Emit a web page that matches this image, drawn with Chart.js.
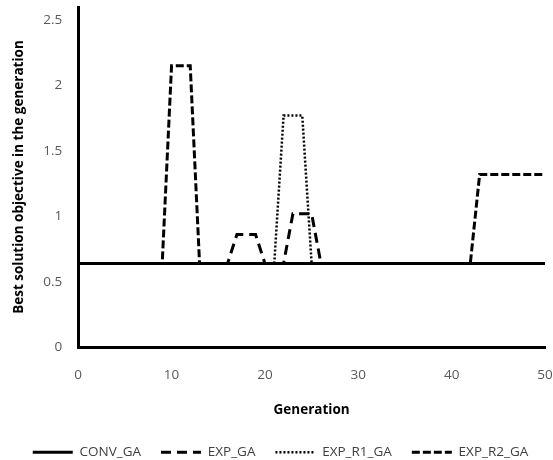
<!DOCTYPE html>
<html>
<head>
<meta charset="utf-8">
<script src="https://cdn.jsdelivr.net/npm/chart.js@4.4.1/dist/chart.umd.min.js"></script>
<style>
  html, body { margin: 0; padding: 0; background: #fff; }
  #wrap { width: 553px; height: 460px; }
</style>
</head>
<body>
<div id="wrap"><canvas id="chart"></canvas></div>
<script>
// Data
const generations = [0, 1, 2, 3, 4, 5, 6, 7, 8, 9, 10, 11, 12, 13, 14, 15, 16, 17, 18, 19, 20,
    21, 22, 23, 24, 25, 26, 27, 28, 29, 30, 31, 32, 33, 34, 35, 36, 37, 38, 39, 40,
    41, 42, 43, 44, 45, 46, 47, 48, 49, 50];

const convGA = [0.64, 0.64, 0.64, 0.64, 0.64, 0.64, 0.64, 0.64, 0.64, 0.64, 0.64, 0.64, 0.64, 0.64, 0.64, 0.64, 0.64, 0.64, 0.64, 0.64, 0.64,
    0.64, 0.64, 0.64, 0.64, 0.64, 0.64, 0.64, 0.64, 0.64, 0.64, 0.64, 0.64, 0.64, 0.64, 0.64, 0.64, 0.64, 0.64, 0.64, 0.64,
    0.64, 0.64, 0.64, 0.64, 0.64, 0.64, 0.64, 0.64, 0.64, 0.64];

const expGA = [0.64, 0.64, 0.64, 0.64, 0.64, 0.64, 0.64, 0.64, 0.64, 0.64, 0.64, 0.64, 0.64, 0.64, 0.64, 0.64, 0.64, 0.86, 0.86, 0.86, 0.64,
    0.64, 0.64, 1.02, 1.02, 1.02, 0.64, 0.64, 0.64, 0.64, 0.64, 0.64, 0.64, 0.64, 0.64, 0.64, 0.64, 0.64, 0.64, 0.64, 0.64,
    0.64, 0.64, 0.64, 0.64, 0.64, 0.64, 0.64, 0.64, 0.64, 0.64];

const expR1GA = [0.64, 0.64, 0.64, 0.64, 0.64, 0.64, 0.64, 0.64, 0.64, 0.64, 0.64, 0.64, 0.64, 0.64, 0.64, 0.64, 0.64, 0.64, 0.64, 0.64, 0.64,
    0.64, 1.77, 1.77, 1.77, 0.64, 0.64, 0.64, 0.64, 0.64, 0.64, 0.64, 0.64, 0.64, 0.64, 0.64, 0.64, 0.64, 0.64, 0.64, 0.64,
    0.64, 0.64, 0.64, 0.64, 0.64, 0.64, 0.64, 0.64, 0.64, 0.64];

const expR2GA = [0.64, 0.64, 0.64, 0.64, 0.64, 0.64, 0.64, 0.64, 0.64, 0.64, 2.15, 2.15, 2.15, 0.64, 0.64, 0.64, 0.64, 0.64, 0.64, 0.64, 0.64,
    0.64, 0.64, 0.64, 0.64, 0.64, 0.64, 0.64, 0.64, 0.64, 0.64, 0.64, 0.64, 0.64, 0.64, 0.64, 0.64, 0.64, 0.64, 0.64, 0.64,
    0.64, 0.64, 1.32, 1.32, 1.32, 1.32, 1.32, 1.32, 1.32, 1.32];

const seriesNames = ['CONV_GA', 'EXP_GA', 'EXP_R1_GA', 'EXP_R2_GA'];
const yTicks = [0, 0.5, 1, 1.5, 2, 2.5];
const xTicks = [0, 10, 20, 30, 40, 50];

function toPoints(values) {
    return generations.map((g, i) => ({ x: g, y: values[i] }));
}

function makeDataset(label, values, dash, width) {
    return {
        label: label,
        data: toPoints(values),
        borderColor: '#000',
        backgroundColor: '#000',
        borderWidth: width,
        borderDash: dash,
        pointRadius: 0,
        tension: 0,
        fill: false
    };
}

// legend samples: keep the dataset's own dash and width
function legendLabels(chart) {
    const items = Chart.defaults.plugins.legend.labels.generateLabels(chart);
    items.forEach(item => {
        const ds = chart.data.datasets[item.datasetIndex];
        item.lineDash = ds.borderDash;
        item.lineWidth = ds.borderWidth;
        item.pointStyle = 'line';
    });
    return items;
}

// chart.js adds tick padding to the edge padding; drop it, layout padding handles edges
function noEdgePadding(scale) {
    scale.paddingTop = 0;
    scale.paddingBottom = 0;
    scale.paddingLeft = 0;
    scale.paddingRight = 0;
}

// nudge the legend row a little to the right, as in the original
const legendShift = {
    id: 'legendShift',
    afterLayout(chart) {
        if (!chart.legend) return;
        chart.legend.left += 8;
        chart.legend.right += 8;
    }
};

const tickFont = { family: 'Open Sans', size: 13.5 };
const titleFont = { family: 'Open Sans', size: 13.5, weight: 'bold' };

new Chart(document.getElementById('chart'), {
    type: 'line',
    data: {
        datasets: [
            makeDataset(seriesNames[0], convGA, [], 3),
            makeDataset(seriesNames[1], expGA, [10, 6], 3),
            makeDataset(seriesNames[2], expR1GA, [2, 2], 2.5),
            makeDataset(seriesNames[3], expR2GA, [8, 3], 3)
        ]
    },
    plugins: [legendShift],
    options: {
        responsive: true,
        maintainAspectRatio: false,
        animation: false,
        layout: { padding: { left: 0, right: 8, top: 7, bottom: -9 } },
        plugins: {
            tooltip: { enabled: false },
            legend: {
                position: 'bottom',
                labels: {
                    usePointStyle: true,
                    pointStyleWidth: 40,
                    padding: 20,
                    color: '#404040',
                    font: { family: 'Open Sans', size: 13.5 },
                    generateLabels: legendLabels
                }
            }
        },
        scales: {
            x: {
                type: 'linear',
                min: 0,
                max: 50,
                afterBuildTicks: (axis) => { axis.ticks = xTicks.map(v => ({ value: v })); },
                afterFit: noEdgePadding,
                grid: { drawOnChartArea: false, drawTicks: false, color: 'transparent' },
                border: { display: true, color: '#000', width: 3 },
                ticks: { padding: 20, color: '#595959', font: tickFont, maxRotation: 0 },
                title: {
                    display: true,
                    text: 'Generation',
                    color: '#000',
                    font: titleFont,
                    padding: { top: -1, bottom: 7 }
                }
            },
            y: {
                type: 'linear',
                min: 0,
                max: 2.6,
                afterBuildTicks: (axis) => { axis.ticks = yTicks.map(v => ({ value: v })); },
                afterFit: noEdgePadding,
                grid: { drawOnChartArea: false, drawTicks: false, color: 'transparent' },
                border: { display: true, color: '#000', width: 3 },
                ticks: {
                    padding: 16,
                    color: '#595959',
                    font: tickFont,
                    callback: (v) => String(v)
                },
                title: {
                    display: true,
                    text: 'Best solution objective in the generation',
                    color: '#000',
                    font: titleFont,
                    padding: { top: 11, bottom: 0 }
                }
            }
        }
    }
});
</script>
</body>
</html>
